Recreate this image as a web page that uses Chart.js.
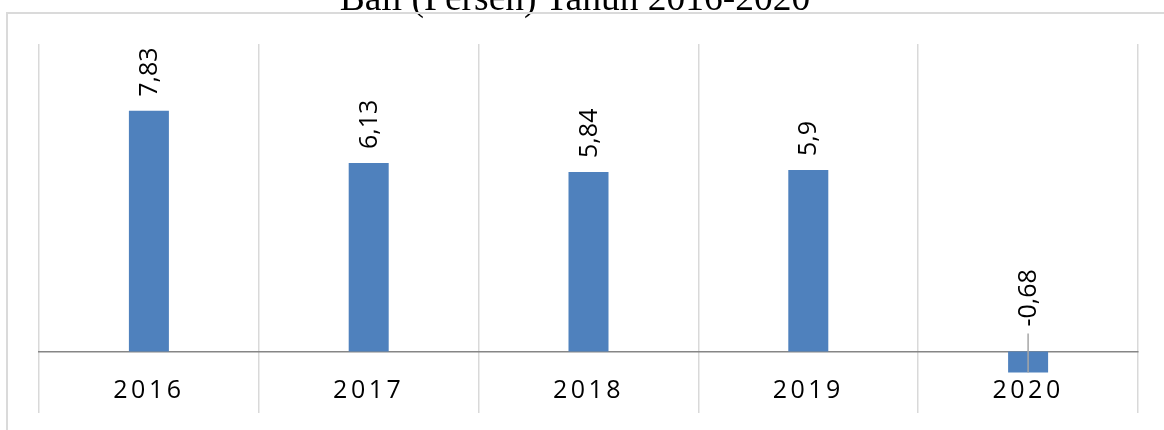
<!DOCTYPE html>
<html>
<head>
<meta charset="utf-8">
<script src="https://cdn.jsdelivr.net/npm/chart.js@4/dist/chart.umd.min.js"></script>
<style>
    html, body { margin: 0; padding: 0; background: #fff; overflow: hidden; }
    #wrap { position: relative; width: 1164px; height: 430px; overflow: hidden; }
    #chart { position: absolute; left: 0; top: 0; }
    #title {
        position: absolute; left: 0; top: -21px; width: 1150px;
        text-align: center; white-space: nowrap;
        font: 37.5px/37.5px "Liberation Serif", serif; color: #000;
    }
    #frame {
        position: absolute; left: 6px; top: 12px; right: -20px; bottom: -20px;
        border-top: 2px solid #dadada; border-left: 2px solid #dadada;
        pointer-events: none;
    }
</style>
</head>
<body>
<div id="wrap">
    <canvas id="chart" width="1164" height="430"></canvas>
    <div id="title"></div>
    <div id="frame"></div>
</div>
<script>
const titleText = 'Bali (Persen) Tahun 2016-2020';
const years = ['2016', '2017', '2018', '2019', '2020'];
const growth = [7.83, 6.13, 5.84, 5.9, -0.68];

const barColor = '#4f81bd';
const labelFont = '25px "Open Sans"';

document.getElementById('title').textContent = titleText;

// spaced-out year labels on the category axis only
const axisSpacing = {
    id: 'axisSpacing',
    afterLayout(chart) {
        const xs = chart.scales.x;
        if (xs._spaced) return;
        const draw = xs.drawLabels;
        xs.drawLabels = function (area) {
            const c = this.ctx;
            c.letterSpacing = '3.5px';
            draw.call(this, area);
            c.letterSpacing = '0px';
        };
        xs._spaced = true;
    }
};

// rotated value labels; negative bars get theirs above the axis with a leader line
const valueLabels = {
    id: 'valueLabels',
    afterDatasetsDraw(chart) {
        const ctx = chart.ctx;
        const yScale = chart.scales.y;
        const zero = yScale.getPixelForValue(0);
        chart.getDatasetMeta(0).data.forEach((bar, i) => {
            const v = growth[i];
            const text = String(v).replace('.', ',');
            let anchor = bar.y - 14;
            if (v < 0) {
                anchor = zero - 25;
                ctx.save();
                ctx.strokeStyle = '#a6a6a6';
                ctx.lineWidth = 1.5;
                ctx.beginPath();
                ctx.moveTo(bar.x, zero - 18);
                ctx.lineTo(bar.x, bar.y);
                ctx.stroke();
                ctx.restore();
            }
            ctx.save();
            ctx.translate(bar.x + 1, anchor);
            ctx.rotate(-Math.PI / 2);
            ctx.font = labelFont;
            ctx.fillStyle = '#000';
            ctx.textAlign = 'left';
            ctx.textBaseline = 'middle';
            ctx.fillText(text, 0, 0);
            ctx.restore();
        });
    }
};

const ctx = document.getElementById('chart').getContext('2d');

const chart = new Chart(ctx, {
    type: 'bar',
    data: {
        labels: years,
        datasets: [{
            data: growth,
            backgroundColor: barColor,
            borderWidth: 0,
            categoryPercentage: 1,
            barPercentage: 0.182
        }]
    },
    options: {
        responsive: false,
        animation: false,
        layout: { padding: { top: 44, left: 39, right: 26, bottom: 17 } },
        plugins: {
            legend: { display: false },
            tooltip: { enabled: false }
        },
        scales: {
            x: {
                position: { y: 0 },
                grid: { offset: true, color: '#d9d9d9', lineWidth: 1.5, drawTicks: false },
                border: { color: '#868686', width: 1.5 },
                ticks: {
                    color: '#000',
                    font: { family: '"Open Sans"', size: 25 },
                    padding: 24,
                    maxRotation: 0
                }
            },
            y: {
                display: false,
                min: -2,
                max: 10
            }
        }
    },
    plugins: [axisSpacing, valueLabels]
});
</script>
</body>
</html>
